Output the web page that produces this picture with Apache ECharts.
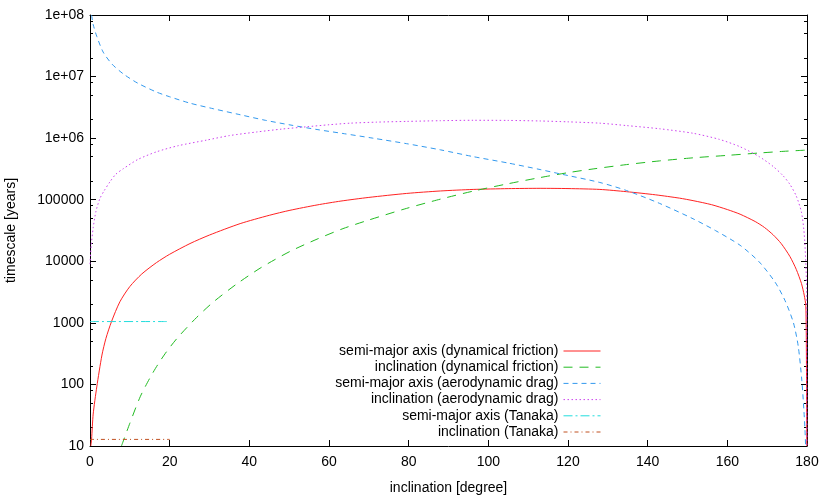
<!DOCTYPE html>
<html>
<head>
<meta charset="utf-8">
<script src="https://cdn.jsdelivr.net/npm/echarts@6/dist/echarts.min.js"></script>
<style>
  html, body { margin: 0; padding: 0; background: #fff; }
  #chart { width: 830px; height: 498px; }
</style>
</head>
<body>
<div id="chart"></div>
<script>
// timescales vs inclination
const smaDynFriction = [[0.2,10],[0.4,13],[0.8,33],[1.7,91],[3,300],[4,560],[5.4,1050],[7.5,2200],[10,3890],[13,6220],[16.7,9530],[20,13000],[25.1,19400],[30,26700],[37.7,40900],[45,55800],[50.2,67300],[57,82200],[63,95100],[70,109000],[79.5,126500],[88,138700],[96.2,146900],[105,151400],[113,153100],[120,151700],[128,146900],[134.7,135000],[142,120000],[148,106000],[151.4,96600],[156,83200],[160,69200],[163.2,58200],[167,44200],[169.3,35500],[171.5,26900],[173.5,19500],[175.7,12000],[177.3,7400],[178.6,4370],[179.3,2820],[179.7,1900],[179.85,300],[179.95,10]];
const incDynFriction = [[7.9,10],[10,23.4],[12.6,63],[15,126],[17,209],[19.2,339],[22,575],[26.8,1230],[31,2190],[36.8,4270],[43,7940],[50.2,14450],[57,22900],[63.5,33900],[70,46800],[79.5,72400],[88,102300],[96.2,138000],[105,182000],[113,229000],[120,275000],[126.3,316000],[134.7,372000],[143,427000],[151.4,479000],[160,525000],[168.2,575000],[174,610000],[178.2,631000],[180,640000]];
const smaAeroDrag = [[0.4,1e8],[0.8,7e7],[1.7,4.5e7],[3.3,2.5e7],[5.5,1.6e7],[8.4,1.1e7],[12,7.8e6],[16.7,5.6e6],[20,4.7e6],[25.1,3.7e6],[31,3e6],[37.7,2.4e6],[44,1.95e6],[50.2,1.64e6],[57,1.38e6],[63.5,1.19e6],[71,1e6],[79.5,813000],[88,645000],[96.2,501000],[105,394000],[113,309000],[118,263000],[128,190500],[134.7,141000],[143,87100],[151.4,49000],[157,31600],[163.2,18200],[168,9770],[172,4570],[174.5,2290],[176.6,1000],[177.8,417],[178.7,117],[179.2,40],[179.5,18],[179.65,10]];
const incAeroDrag = [[0,9000],[0.3,18000],[0.8,35000],[1.5,65000],[2.5,105000],[3.5,138000],[5,195000],[6.5,260000],[8.4,320000],[12,450000],[16.7,600000],[22,750000],[29.3,930000],[35,1.1e6],[41.9,1.26e6],[48,1.4e6],[54.4,1.53e6],[60,1.65e6],[65.3,1.75e6],[72,1.82e6],[79.5,1.87e6],[88,1.92e6],[96.2,1.95e6],[105,1.94e6],[113,1.9e6],[120,1.84e6],[128,1.75e6],[134.7,1.6e6],[143,1.42e6],[151.4,1.2e6],[158,955000],[163.2,724000],[168,501000],[171.5,347000],[174,245000],[175.7,178000],[177.3,115000],[178.6,63000],[179.2,33000],[179.5,17800],[179.9,3550],[179.97,10]];
const smaTanaka = [[0,1050],[19.3,1050]];
const incTanaka = [[0,12.8],[20,12.8]];

const seriesNames = [
    'semi-major axis (dynamical friction)',
    'inclination (dynamical friction)',
    'semi-major axis (aerodynamic drag)',
    'inclination (aerodynamic drag)',
    'semi-major axis (Tanaka)',
    'inclination (Tanaka)'
];

const majorTicks = [10, 100, 1000, 10000, 100000, 1e6, 1e7, 1e8];
const minorTicks = [20, 50, 80, 200, 500, 800, 2000, 5000, 8000, 20000, 50000, 80000,
    2e5, 5e5, 8e5, 2e6, 5e6, 8e6, 2e7, 5e7, 8e7];

const FONT = 'Liberation Sans';
const FSIZE = 14;

function yLabel(v) {
    if (v >= 1e6) {
        const e = Math.round(Math.log10(v));
        return '1e+' + (e < 10 ? '0' + e : e);
    }
    return String(Math.round(v));
}

function logAxis(pos, ticks, len, withLabels) {
    return {
        type: 'log',
        logBase: 10,
        position: pos,
        min: 10,
        max: 1e8,
        axisLine: { show: withLabels, lineStyle: { color: '#000', width: 1 } },
        axisTick: { show: true, inside: true, length: len, customValues: ticks,
            lineStyle: { color: '#000', width: 1 } },
        axisLabel: withLabels && pos === 'left' ? {
            show: true, customValues: majorTicks, formatter: yLabel,
            color: '#000', fontFamily: FONT, fontSize: FSIZE, margin: 6
        } : { show: false },
        splitLine: { show: false },
        minorTick: { show: false }
    };
}

const chart = echarts.init(document.getElementById('chart'));

const yMain = logAxis('left', majorTicks, 6, true);
yMain.name = 'timescale [years]';
yMain.nameLocation = 'middle';
yMain.nameGap = 72;
yMain.nameTextStyle = { color: '#000', fontFamily: FONT, fontSize: FSIZE };

function line(name, data, color, dash) {
    return {
        name: name,
        type: 'line',
        data: data,
        xAxisIndex: 0,
        yAxisIndex: 0,
        symbol: 'none',
        showSymbol: false,
        smooth: 0.25,
        clip: true,
        silent: true,
        color: color,
        lineStyle: { color: color, width: 1, type: dash }
    };
}

const option = {
    animation: false,
    backgroundColor: '#fff',
    grid: { left: 90, right: 23, top: 15, bottom: 52, outerBoundsMode: 'none', containLabel: false },
    legend: {
        orient: 'vertical',
        right: 224,
        top: 339,
        align: 'right',
        itemWidth: 37,
        itemHeight: 14,
        itemGap: 2.2,
        itemStyle: { opacity: 0 },
        lineStyle: { width: 1 },
        textStyle: { color: '#000', fontFamily: FONT, fontSize: FSIZE },
        data: seriesNames
    },
    xAxis: [
        {
            type: 'value',
            position: 'bottom',
            min: 0,
            max: 180,
            interval: 20,
            name: 'inclination [degree]',
            nameLocation: 'middle',
            nameGap: 35,
            nameTextStyle: { color: '#000', fontFamily: FONT, fontSize: FSIZE },
            axisLine: { show: true, lineStyle: { color: '#000', width: 1 } },
            axisTick: { show: true, inside: true, length: 6, lineStyle: { color: '#000' } },
            axisLabel: { color: '#000', fontFamily: FONT, fontSize: FSIZE, margin: 9 },
            splitLine: { show: false }
        },
        {
            type: 'value',
            position: 'top',
            min: 0,
            max: 180,
            interval: 20,
            axisLine: { show: true, lineStyle: { color: '#000', width: 1 } },
            axisTick: { show: true, inside: true, length: 6, lineStyle: { color: '#000' } },
            axisLabel: { show: false },
            splitLine: { show: false }
        }
    ],
    yAxis: [
        yMain,
        logAxis('left', minorTicks, 3, false),
        logAxis('right', majorTicks, 6, true),
        logAxis('right', minorTicks, 3, false)
    ],
    series: [
        line(seriesNames[0], smaDynFriction, '#ff2222', 'solid'),
        line(seriesNames[1], incDynFriction, '#22bb22', [9, 7]),
        line(seriesNames[2], smaAeroDrag, '#3399ee', [5, 4]),
        line(seriesNames[3], incAeroDrag, '#cc44ee', [1.5, 2.5]),
        line(seriesNames[4], smaTanaka, '#22dddd', [9, 3, 2, 3]),
        line(seriesNames[5], incTanaka, '#c05020', [4, 3, 1, 3])
    ]
};

chart.setOption(option);
</script>
</body>
</html>
